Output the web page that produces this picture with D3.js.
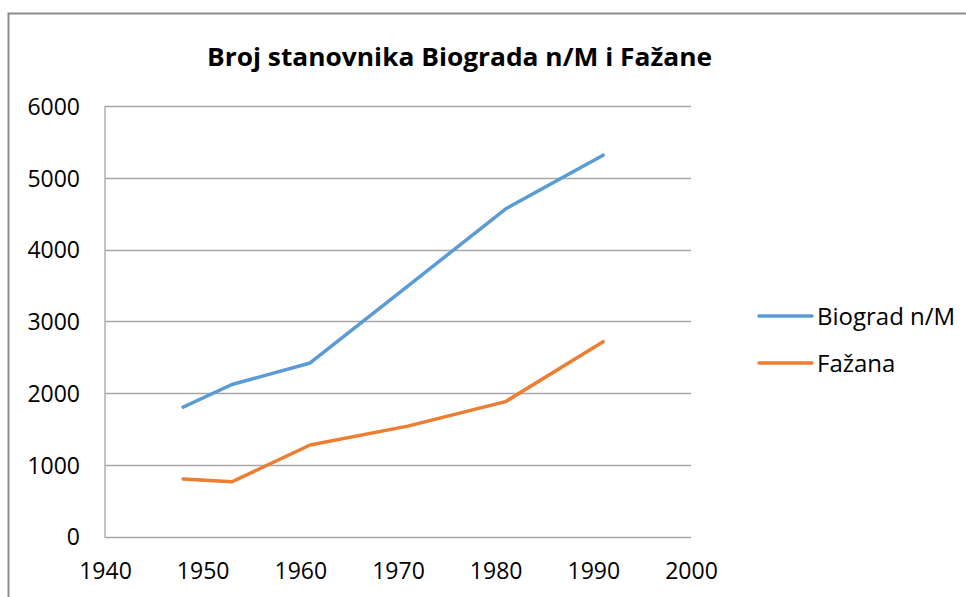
<!DOCTYPE html>
<html>
<head>
<meta charset="utf-8">
<script src="https://cdn.jsdelivr.net/npm/d3@7"></script>
<style>
  html, body { margin: 0; padding: 0; background: #fff; }
  svg text { font-family: "Open Sans", "Noto Sans", sans-serif; fill: #000; }
</style>
</head>
<body>
<div id="chart"></div>
<script>
// ========== ДАННЫЕ ==========
const years = [1948, 1953, 1961, 1971, 1981, 1991];
const biograd = [1805, 2120, 2420, 3490, 4565, 5315];
const fazana = [804, 765, 1277, 1540, 1881, 2717];
const seriesNames = ['Biograd n/M', 'Fažana'];
const seriesColors = ['#5B9BD5', '#ED7D31'];
const xTicks = [1940, 1950, 1960, 1970, 1980, 1990, 2000];
const yTicks = [0, 1000, 2000, 3000, 4000, 5000, 6000];
const title = 'Broj stanovnika Biograda n/M i Fažane';

function renderChart() {
    const width = 966, height = 597;
    const svg = d3.select('#chart')
        .append('svg')
        .attr('width', width)
        .attr('height', height);

    // рамка
    svg.append('path')
        .attr('d', `M8.5,${height} V13.5 H${width}`)
        .attr('fill', 'none')
        .attr('stroke', '#8c8c8c')
        .attr('stroke-width', 2);

    const x = d3.scaleLinear().domain([1940, 2000]).range([105, 691]);
    const y = d3.scaleLinear().domain([0, 6000]).range([536.7, 106]);

    // сетка
    svg.append('g')
        .selectAll('line')
        .data(yTicks)
        .enter().append('line')
        .attr('x1', x(1940))
        .attr('x2', x(2000))
        .attr('y1', d => Math.round(y(d)) + 0.5)
        .attr('y2', d => Math.round(y(d)) + 0.5)
        .attr('stroke', '#a6a6a6')
        .attr('stroke-width', 1.3);

    svg.append('line')
        .attr('x1', x(1940)).attr('x2', x(1940))
        .attr('y1', y(6000)).attr('y2', y(0) + 1)
        .attr('stroke', '#a6a6a6')
        .attr('stroke-width', 1.3);

    // оси
    const yAxis = svg.append('g')
        .attr('transform', `translate(${x(1940)},0)`)
        .call(d3.axisLeft(y).tickValues(yTicks).tickSize(0).tickPadding(25).tickFormat(d3.format('d')));
    yAxis.select('.domain').remove();
    yAxis.selectAll('text')
        .attr('font-size', '23px')
        .attr('font-family', '"Open Sans", sans-serif')
        .attr('dy', '0.36em');

    const xAxis = svg.append('g')
        .attr('transform', `translate(0,${y(0)})`)
        .call(d3.axisBottom(x).tickValues(xTicks).tickSize(0).tickPadding(26).tickFormat(d3.format('d')));
    xAxis.select('.domain').remove();
    xAxis.selectAll('text')
        .attr('font-size', '23px')
        .attr('font-family', '"Open Sans", sans-serif');

    // линии
    const line = d3.line()
        .x(d => x(d[0]))
        .y(d => y(d[1]));

    [biograd, fazana].forEach((vals, i) => {
        svg.append('path')
            .datum(years.map((yr, j) => [yr, vals[j]]))
            .attr('d', line)
            .attr('fill', 'none')
            .attr('stroke', seriesColors[i])
            .attr('stroke-width', 3.5)
            .attr('stroke-linejoin', 'round')
            .attr('stroke-linecap', 'round');
    });

    // легенда
    const legend = svg.append('g')
        .selectAll('g')
        .data(seriesNames)
        .enter().append('g')
        .attr('transform', (d, i) => `translate(759,${316 + i * 47})`);
    legend.append('line')
        .attr('x1', 0).attr('x2', 53)
        .attr('stroke', (d, i) => seriesColors[i])
        .attr('stroke-width', 3.5)
        .attr('stroke-linecap', 'round');
    legend.append('text')
        .text(d => d)
        .attr('x', 58)
        .attr('dy', '0.36em')
        .attr('font-size', '24px');

    // заголовок
    svg.append('text')
        .text(title)
        .attr('x', 459.5)
        .attr('y', 66)
        .attr('text-anchor', 'middle')
        .attr('font-size', '25px')
        .attr('font-weight', 'bold')
        .attr('textLength', 505)
        .attr('lengthAdjust', 'spacingAndGlyphs');
}

renderChart();
</script>
</body>
</html>
